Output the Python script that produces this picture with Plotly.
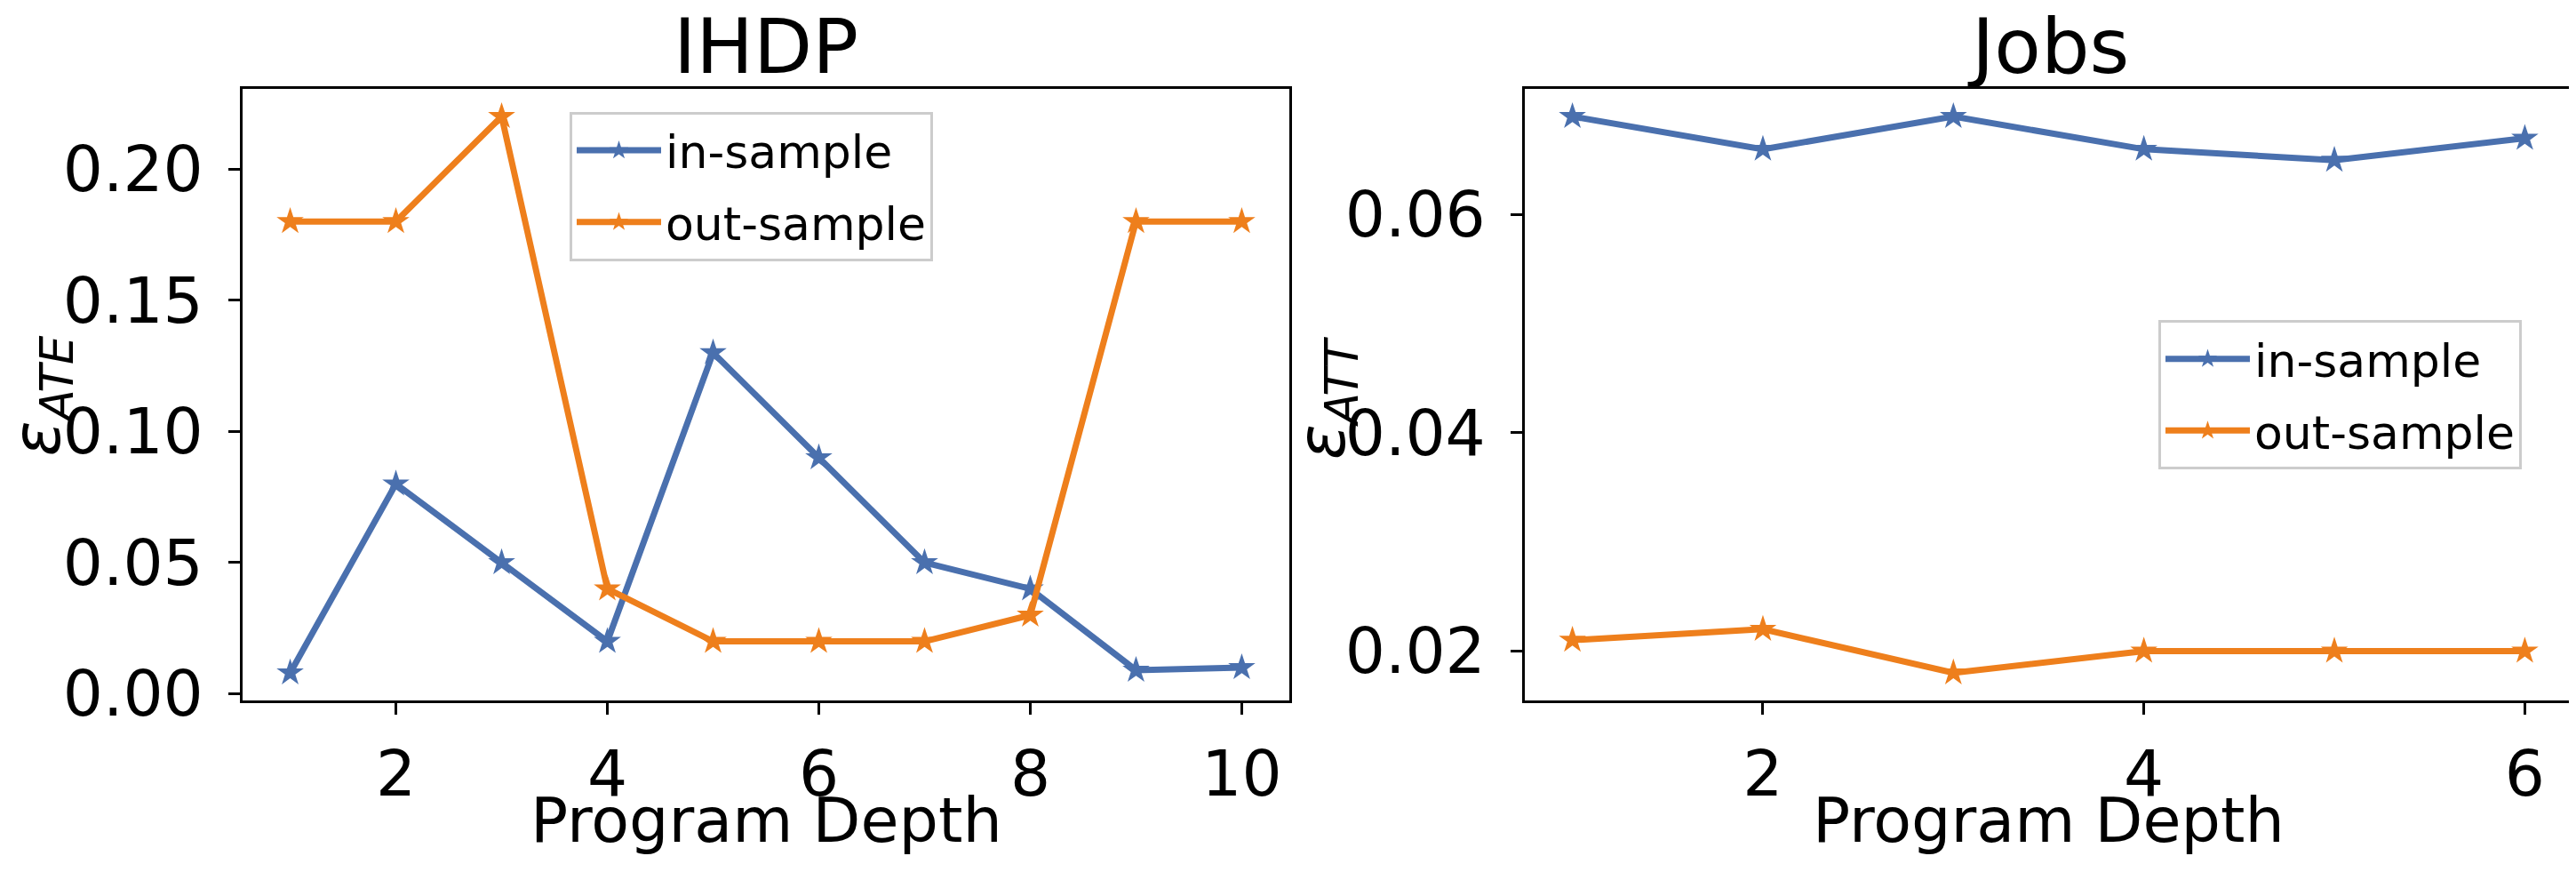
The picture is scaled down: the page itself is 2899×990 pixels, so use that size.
import plotly.graph_objects as go

# IHDP panel
ihdp_depth = [1, 2, 3, 4, 5, 6, 7, 8, 9, 10]
ihdp_in = [0.008, 0.08, 0.05, 0.02, 0.13, 0.09, 0.05, 0.04, 0.009, 0.01]
ihdp_out = [0.18, 0.18, 0.22, 0.04, 0.02, 0.02, 0.02, 0.03, 0.18, 0.18]

# Jobs panel
jobs_depth = [1, 2, 3, 4, 5, 6]
jobs_in = [0.069, 0.066, 0.069, 0.066, 0.065, 0.067]
jobs_out = [0.021, 0.022, 0.018, 0.020, 0.020, 0.020]

ihdp_yticks = [0.0, 0.05, 0.10, 0.15, 0.20]
jobs_yticks = [0.02, 0.04, 0.06]

BLUE = "#4a70ae"
ORANGE = "#ee7f1c"
FONT = "DejaVu Sans"
W, H = 2899, 990


def fx(x):
    return x / W


def fy(y):
    return 1 - y / H


fig = go.Figure()


def add_line(x, y, name, color, xa, ya, legend):
    fig.add_trace(go.Scatter(
        x=x, y=y, name=name, mode="lines+markers",
        line=dict(color=color, width=7),
        marker=dict(symbol="star", size=23, color=color),
        xaxis=xa, yaxis=ya, legend=legend, legendgroup=legend + name,
    ))


add_line(ihdp_depth, ihdp_in, "in-sample", BLUE, "x", "y", "legend")
add_line(ihdp_depth, ihdp_out, "out-sample", ORANGE, "x", "y", "legend")
add_line(jobs_depth, jobs_in, "in-sample", BLUE, "x2", "y2", "legend2")
add_line(jobs_depth, jobs_out, "out-sample", ORANGE, "x2", "y2", "legend2")

axis_style = dict(
    showline=True, linecolor="black", linewidth=3, mirror=True,
    showgrid=False, zeroline=False,
    ticks="outside", ticklen=13, tickwidth=3, tickcolor="black",
    tickfont=dict(family=FONT, size=71, color="black"),
)

legend_style = dict(
    xanchor="left", yanchor="top",
    font=dict(size=52), bgcolor="white",
    bordercolor="#cccccc", borderwidth=3, itemwidth=95,
    tracegroupgap=10,
)


def label(text, x, y, size, angle=0):
    return dict(text=text, x=fx(x), y=fy(y), xref="paper", yref="paper",
                xanchor="center", yanchor="middle", showarrow=False,
                textangle=angle, font=dict(size=size, family=FONT, color="black"))


fig.update_layout(
    width=W, height=H,
    margin=dict(l=0, r=0, t=0, b=0),
    paper_bgcolor="white", plot_bgcolor="white",
    font=dict(family=FONT, color="black"),
    xaxis=dict(domain=[fx(265), fx(1443)], range=[0.55, 10.45],
               tickvals=[2, 4, 6, 8, 10], ticklabelstandoff=6,
               anchor="y", **axis_style),
    yaxis=dict(domain=[fy(808), fy(95)], range=[-0.0026, 0.2306],
               tickvals=ihdp_yticks, tickformat=".2f", ticklabelstandoff=14,
               anchor="x", **axis_style),
    xaxis2=dict(domain=[fx(1708), fx(2887)], range=[0.75, 6.25],
                tickvals=[2, 4, 6], ticklabelstandoff=6,
                anchor="y2", **axis_style),
    yaxis2=dict(domain=[fy(808), fy(95)], range=[0.01545, 0.07155],
                tickvals=jobs_yticks, tickformat=".2f", ticklabelstandoff=14,
                anchor="x2", **axis_style),
    legend=dict(x=fx(633), y=fy(122), **legend_style),
    legend2=dict(x=fx(2421), y=fy(365), **legend_style),
    annotations=[
        label("IHDP", 854, 46, 86),
        label("Jobs", 2297, 46, 86),
        label("Program Depth", 854, 948, 70),
        label("Program Depth", 2297, 948, 70),
        label("<i>ε<sub>ATE</sub></i>", 38, 453, 74, -90),
        label("<i>ε<sub>ATT</sub></i>", 1484, 456, 74, -90),
    ],
)

fig.write_html("out.html")
